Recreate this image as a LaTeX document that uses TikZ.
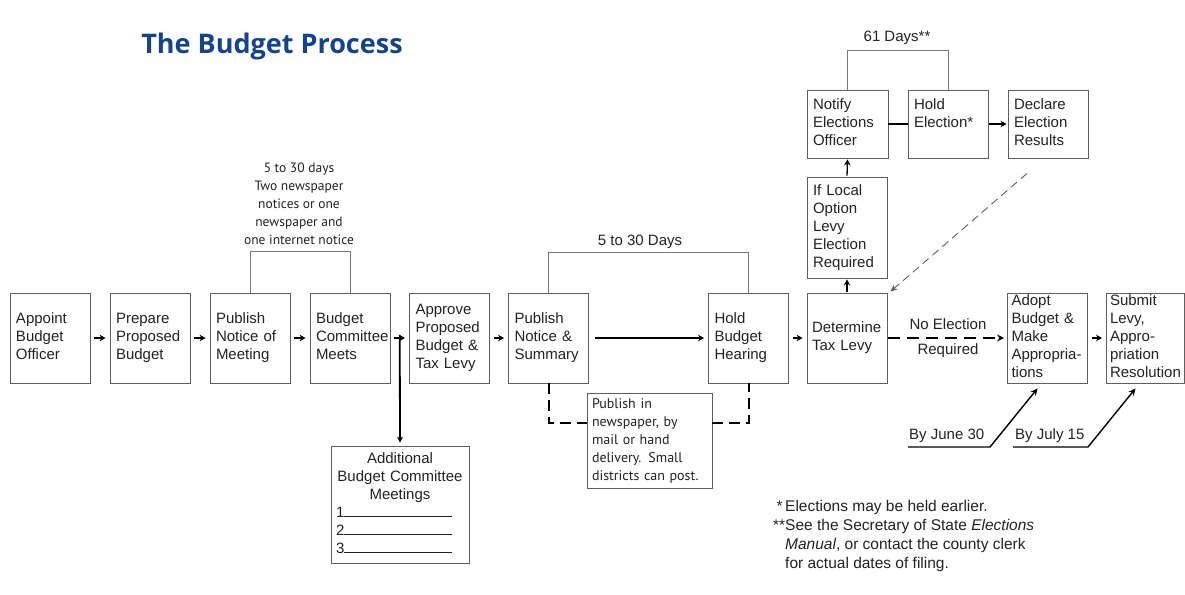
\documentclass[tikz,border=0pt]{standalone}
\usepackage{fontspec}
\setmainfont{Liberation Sans}
\newfontfamily\hum{PT Sans}
\newfontfamily\ttl{Open Sans}
\usetikzlibrary{arrows.meta,calc}
\definecolor{boxgray}{RGB}{95,95,95}
\definecolor{txt}{RGB}{35,35,35}
\definecolor{titleblue}{RGB}{22,68,140}
\definecolor{brgray}{RGB}{120,120,120}
\newcommand{\fs}{\fontsize{15}{18}\selectfont}
\begin{document}
\begin{tikzpicture}[x=1pt,y=-1pt,
  box/.style={draw=boxgray, line width=0.9pt, minimum width=80pt, minimum height=90pt,
    text width=68pt, inner xsep=6pt, inner ysep=0pt, align=left, font=\fs, text=txt,
    execute at begin node=\strut, execute at end node=\strut},
  flow/.style={-{Stealth[length=6pt,width=6.5pt]}, line width=1.3pt, black, shorten <=4pt, shorten >=4pt},
  bracket/.style={draw=brgray, line width=0.8pt},
  lbl/.style={font=\fs, text=txt, inner sep=1pt}]
\path[use as bounding box, fill=white] (0,0) rectangle (1185,594);

% title
\node[font=\ttl\fontsize{27}{30}\selectfont\bfseries, text=titleblue] (title) at (272,46) {The Budget Process};

% main row
\node[box] (b1) at (50,338) {Appoint\\Budget\\Officer};
\node[box] (b2) at (150,338) {Prepare\\Proposed\\Budget};
\node[box] (b3) at (250,338) {Publish\\Notice of\\Meeting};
\node[box] (b4) at (350,338) {Budget\\Committee\\Meets};
\node[box] (b5) at (449.5,338) {Approve\\Proposed\\Budget \&\\Tax Levy};
\node[box] (b6) at (548.5,338) {Publish\\Notice \&\\Summary};
\node[box] (b7) at (748.5,338) {Hold\\Budget\\Hearing};
\node[box, text width=70pt, inner xsep=5pt] (b8) at (847,338) {Determine\\Tax Levy};
\node[box, text width=72pt, inner xsep=4pt] (b9) at (1047.5,338) {Adopt\\Budget \&\\Make\\\mbox{Appropria-}\\tions};
\node[box, minimum width=78pt, text width=71pt, inner xsep=3.5pt] (b10) at (1145.5,338) {Submit\\Levy,\\\mbox{Appro-}\\priation\\Resolution};

% upper row
\node[box, minimum width=81pt, minimum height=68pt, text width=69pt] (notify) at (847.5,124) {Notify\\Elections\\Officer};
\node[box, minimum height=68pt] (holdel) at (948,124) {Hold\\Election*\\\mbox{}};
\node[box, minimum height=68pt] (decl) at (1048,124) {Declare\\Election\\Results};
\node[box, minimum height=101pt] (iflocal) at (847,227.5) {If Local\\Option\\Levy\\Election\\Required};

% lower boxes
\node[box, minimum width=138pt, text width=128pt, inner xsep=5pt, minimum height=117pt] (addl) at (400,504.5)
  {\makebox[128pt]{Additional}\\\makebox[128pt]{Budget Committee}\\\makebox[128pt]{Meetings}\\
   1\rule{108pt}{0.8pt}\\2\rule{108pt}{0.8pt}\\3\rule{108pt}{0.8pt}};
\node[box, minimum width=125pt, text width=115pt, inner xsep=5pt, minimum height=95pt,
  font=\hum\fontsize{14}{18}\selectfont] (pubin) at (649.5,440.5)
  {Publish in\\newspaper, by\\mail or hand\\delivery. Small\\districts can post.};

% brackets and labels
\node[font=\hum\fontsize{13.5}{18}\selectfont, align=center, text=txt] (t1) at (299,204)
  {5 to 30 days\\Two newspaper\\notices or one\\newspaper and\\one internet notice};
\draw[bracket] (b3.north) -- ++(0,-41) -| (b4.north);
\node[lbl] (t2) at (640,242) {5 to 30 Days};
\draw[bracket] (b6.north) -- ++(0,-40) -| (b7.north);
\node[lbl] (t3) at (897,38) {61 Days**};
\draw[bracket] (notify.north) -- ++(0,-39) -| (holdel.north);

% flow arrows main row
\draw[flow] (b1.east) -- (b2.west);
\draw[flow] (b2.east) -- (b3.west);
\draw[flow] (b3.east) -- (b4.west);
\draw[flow] (b4.east) -- (b5.west);
\draw[flow] (b5.east) -- (b6.west);
\draw[flow, shorten <=6pt] (b6.east) -- (b7.west);
\draw[flow] (b7.east) -- (b8.west);
\draw[flow] (b9.east) -- (b10.west);
\coordinate (br) at ($(b4.east)!0.5!(b5.west)$);
\draw[-{Stealth[length=6pt,width=6pt]}, line width=1.8pt, shorten >=3pt] ([yshift=3pt]br) -- (addl.north);

% dashed loop under publish notice
\coordinate (d1) at ($(b6.south)+(0,40)$);
\coordinate (d2) at ($(b7.south)+(0,40)$);
\draw[line width=2pt, dash pattern=on 11pt off 6pt] (b6.south) -- (d1) -- (d1 -| pubin.west);
\draw[line width=2pt, dash pattern=on 11pt off 6pt] (d2 -| pubin.east) -- (d2) -- (b7.south);

% election branch
\draw[flow, shorten <=1pt, shorten >=1pt] (b8.north) -- (iflocal.south);
\draw[flow, shorten <=1pt, shorten >=1pt] (iflocal.north) -- (notify.south);
\draw[line width=1.8pt] (notify.east) -- (holdel.west);
\draw[flow, shorten <=1pt, shorten >=1pt] (holdel.east) -- (decl.west);
\draw[-{Stealth[length=7pt,width=6pt]}, line width=0.9pt, dash pattern=on 8pt off 5pt, boxgray]
  ($(decl.south)+(-21,15)$) -- ($(b8.north east)+(3,-1)$);

% no election
\draw[-{Stealth[length=7pt,width=7pt]}, line width=2pt, dash pattern=on 12pt off 7pt, shorten >=3pt, shorten <=1pt]
  (b8.east) -- (b9.west);
\node[lbl] (ne1) at (948,324) {No Election};
\node[lbl] (ne2) at (948,351) {Required};

% deadlines
\node[lbl, anchor=south west, inner sep=0pt] (bj) at (909,443) {By June 30};
\draw[-{Stealth[length=7pt,width=6.5pt]}, line width=1.4pt]
  ($(bj.south west)+(-1,4)$) -- ++(82,0) -- ($(b9.south)+(-10,5)$);
\node[lbl, anchor=south west, inner sep=0pt] (bjl) at (1015,443) {By July 15};
\draw[-{Stealth[length=7pt,width=6.5pt]}, line width=1.4pt]
  ($(bjl.south west)+(-2,4)$) -- ++(75,0) -- ($(b10.south)+(-10,5)$);

% footnotes
\node[anchor=north west, align=left, inner sep=0pt, text=txt, font=\fontsize{15.5}{19}\selectfont] (fn) at (768,500)
  {\makebox[17pt][r]{*\,}Elections may be held earlier.\\
   \makebox[17pt][r]{**}See the Secretary of State \textit{Elections}\\
   \hspace*{17pt}\textit{Manual}, or contact the county clerk\\
   \hspace*{17pt}for actual dates of filing.};
\end{tikzpicture}
\end{document}
